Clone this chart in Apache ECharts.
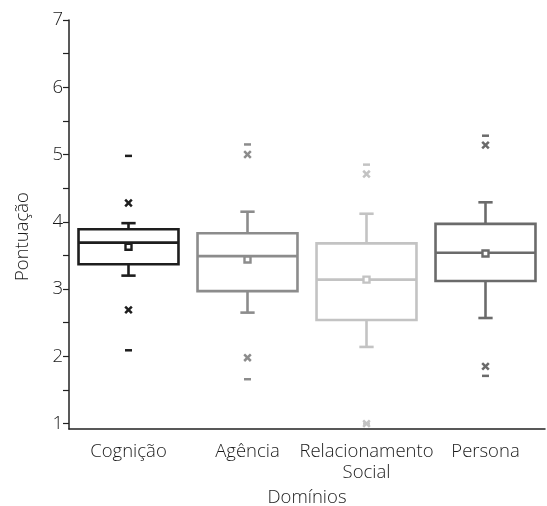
<!DOCTYPE html>
<html>
<head>
<meta charset="utf-8">
<script src="https://cdn.jsdelivr.net/npm/echarts@6/dist/echarts.min.js"></script>
<style>html,body{margin:0;padding:0;background:#fff}#c{width:547px;height:506px}</style>
</head>
<body>
<div id="c"></div>
<script>
var categories = ['Cognição', 'Agência', 'Relacionamento\nSocial', 'Persona'];
var whiskerLow = [3.20, 2.65, 2.14, 2.57];
var q1 = [3.37, 2.97, 2.54, 3.12];
var median = [3.69, 3.49, 3.14, 3.54];
var q3 = [3.89, 3.83, 3.68, 3.97];
var whiskerHigh = [3.98, 4.15, 4.12, 4.29];
var mean = [3.63, 3.44, 3.14, 3.53];
var pctLow = [2.69, 1.98, 1.00, 1.85];
var pctHigh = [4.28, 5.00, 4.71, 5.14];
var minVal = [2.09, 1.66, 1.00, 1.71];
var maxVal = [4.98, 5.15, 4.85, 5.28];
var yTicks = [1, 1.5, 2, 2.5, 3, 3.5, 4, 4.5, 5, 5.5, 6, 6.5, 7];
var yLabels = [1, 2, 3, 4, 5, 6, 7];
var colors = ['#1e1e1e', '#8c8c8c', '#c3c3c3', '#6b6b6b'];

var rows = categories.map(function (c, i) {
  return [i, whiskerLow[i], q1[i], median[i], q3[i], whiskerHigh[i], mean[i], pctLow[i], pctHigh[i], minVal[i], maxVal[i]];
});

var FONT = '"Open Sans", "Noto Sans", sans-serif';
var FS = 18.5;

function renderItem(params, api) {
  var i = api.value(0);
  var col = colors[i];
  var band = api.size([1, 0])[0];
  var bw = band * 0.84;
  var capW = band * 0.12;
  function P(v) { return api.coord([i, v]); }
  var cx = P(api.value(3))[0];
  var yWl = P(api.value(1))[1], yQ1 = P(api.value(2))[1], yMed = P(api.value(3))[1],
      yQ3 = P(api.value(4))[1], yWh = P(api.value(5))[1], yMean = P(api.value(6))[1];
  var lw = 2.6;
  var kids = [];
  function line(x1, y1, x2, y2, w) {
    kids.push({ type: 'line', shape: { x1: x1, y1: y1, x2: x2, y2: y2 }, style: { stroke: col, lineWidth: w || lw } });
  }
  kids.push({ type: 'rect', shape: { x: cx - bw / 2, y: yQ3, width: bw, height: yQ1 - yQ3 }, style: { stroke: col, lineWidth: lw, fill: 'rgba(0,0,0,0)' } });
  line(cx - bw / 2, yMed, cx + bw / 2, yMed);
  line(cx, yQ3, cx, yWh);
  line(cx, yQ1, cx, yWl);
  line(cx - capW / 2, yWh, cx + capW / 2, yWh);
  line(cx - capW / 2, yWl, cx + capW / 2, yWl);
  // mean marker
  kids.push({ type: 'rect', shape: { x: cx - 3, y: yMean - 3, width: 6, height: 6 }, style: { stroke: col, lineWidth: 2.4, fill: '#fff' } });
  // percentile x marks
  [7, 8].forEach(function (d) {
    var y = P(api.value(d))[1];
    var s = 3.3;
    line(cx - s, y - s, cx + s, y + s, 2.5);
    line(cx - s, y + s, cx + s, y - s, 2.5);
  });
  // min / max dashes
  [9, 10].forEach(function (d) {
    var y = P(api.value(d))[1];
    line(cx - 3.5, y, cx + 3.5, y, 2.5);
  });
  return { type: 'group', children: kids };
}

var chart = echarts.init(document.getElementById('c'));
chart.setOption({
  animation: false,
  grid: { left: 69, right: 2, top: 20, bottom: 77, containLabel: false, outerBoundsMode: 'none' },
  xAxis: {
    type: 'category',
    data: categories,
    boundaryGap: true,
    name: 'Domínios',
    nameLocation: 'middle',
    nameGap: 57,
    nameTextStyle: { fontFamily: FONT, fontSize: FS, fontWeight: 300, color: '#1a1a1a' },
    axisLine: { lineStyle: { color: '#222', width: 1.5 } },
    axisTick: { alignWithLabel: true, interval: 0, length: 6, lineStyle: { color: '#222', width: 1.2 } },
    axisLabel: { interval: 0, fontFamily: FONT, fontSize: FS, fontWeight: 300, color: '#1a1a1a', margin: 12, lineHeight: 21 },
    splitLine: { show: false }
  },
  yAxis: {
    type: 'value',
    min: 0.92,
    max: 7,
    name: 'Pontuação',
    nameLocation: 'middle',
    nameGap: 37,
    nameRotate: 90,
    nameTextStyle: { fontFamily: FONT, fontSize: FS, fontWeight: 300, color: '#1a1a1a', padding: [0, 24, 0, 0] },
    axisLine: { show: true, lineStyle: { color: '#222', width: 1.5 } },
    axisTick: { show: true, customValues: yTicks, length: 6, lineStyle: { color: '#222', width: 1.2 } },
    axisLabel: { customValues: yLabels, fontFamily: FONT, fontSize: FS, fontWeight: 300, color: '#1a1a1a', margin: 6 },
    splitLine: { show: false }
  },
  series: [{
    type: 'custom',
    renderItem: renderItem,
    encode: { x: 0, y: [1, 2, 3, 4, 5, 6, 7, 8, 9, 10] },
    data: rows,
    clip: false
  }]
});
</script>
</body>
</html>
